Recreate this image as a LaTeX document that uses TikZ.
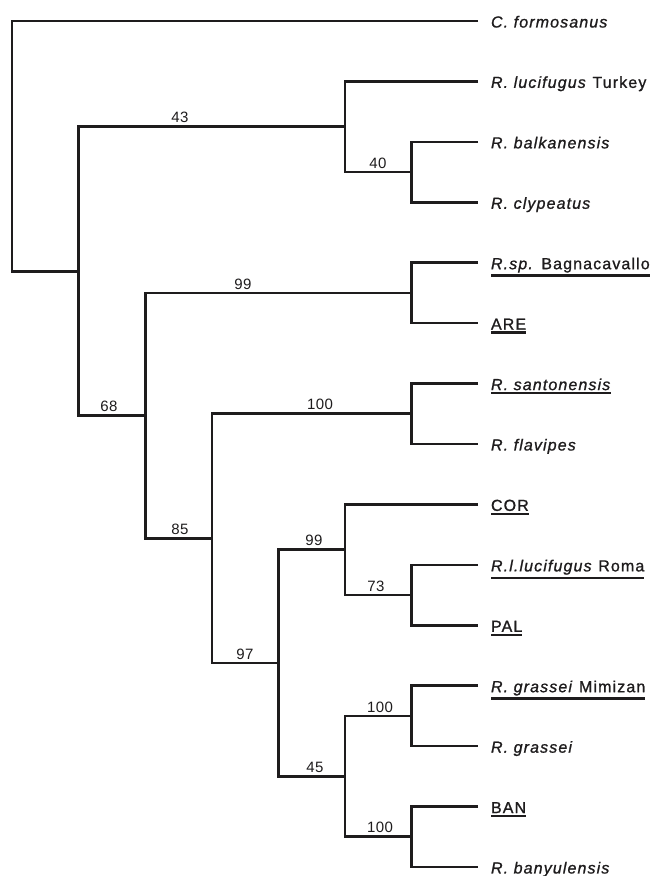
\documentclass[tikz,border=0pt]{standalone}
\usepackage{fontspec}
\setmainfont{Liberation Sans}[LetterSpace=7.0,FakeBold=1.0]
\newfontfamily\bootfont{Liberation Sans}[LetterSpace=3.0]
\newcommand{\ulname}[1]{\setbox0\hbox{#1}\rlap{\rule[-\dimexpr\dp0+4.2pt\relax]{\wd0}{2.4pt}}\box0}
\begin{document}
\begin{tikzpicture}[x=1pt,y=1pt,
  branch/.style={draw=drawColor,line width= 2.6pt,line join=miter},
  taxon/.style={text=drawColor,anchor=base west,inner sep=0pt,outer sep=0pt,font=\fontsize{16}{19}\selectfont},
  boot/.style={text=drawColor,anchor=base,inner sep=0pt,outer sep=0pt,font=\bootfont\fontsize{15}{18}\selectfont}]
\definecolor{fillColor}{RGB}{255,255,255}
\definecolor{drawColor}{RGB}{30,28,29}
\path[use as bounding box,fill=fillColor] (0,0) rectangle (650,876);

% tips
\coordinate (tForm) at (478.20,855.00);
\coordinate (tTurk) at (478.20,794.60);
\coordinate (tBalk) at (478.20,734.10);
\coordinate (tClyp) at (478.20,673.70);
\coordinate (tBagn) at (478.20,613.30);
\coordinate (tARE)  at (478.20,552.80);
\coordinate (tSant) at (478.20,492.40);
\coordinate (tFlav) at (478.20,432.00);
\coordinate (tCOR)  at (478.20,371.60);
\coordinate (tRoma) at (478.20,311.10);
\coordinate (tPAL)  at (478.20,250.70);
\coordinate (tMimi) at (478.20,190.30);
\coordinate (tGras) at (478.20,129.80);
\coordinate (tBAN)  at (478.20, 69.40);
\coordinate (tBany) at (478.20,  9.00);

% internal nodes
\coordinate (root)  at ( 12.00,604.70);
\coordinate (nIng)  at ( 78.60,604.70);
\coordinate (n43)   at (345.00,749.20);
\coordinate (n40)   at (411.60,703.90);
\coordinate (n68)   at (145.20,460.20);
\coordinate (n99a)  at (411.60,583.00);
\coordinate (n85)   at (211.80,337.50);
\coordinate (n100a) at (411.60,462.20);
\coordinate (n97)   at (278.40,212.90);
\coordinate (n99b)  at (345.00,326.20);
\coordinate (n73)   at (411.60,280.90);
\coordinate (n45)   at (345.00, 99.60);
\coordinate (n100b) at (411.60,160.00);
\coordinate (n100c) at (411.60, 39.20);

% branches
\path[branch] (tForm) -| (root) -- (nIng);
\path[branch] (n43) -| (nIng) |- (n68);
\path[branch] (tTurk) -| (n43) |- (n40);
\path[branch] (tBalk) -| (n40) |- (tClyp);
\path[branch] (n99a) -| (n68) |- (n85);
\path[branch] (tBagn) -| (n99a) |- (tARE);
\path[branch] (n100a) -| (n85) |- (n97);
\path[branch] (tSant) -| (n100a) |- (tFlav);
\path[branch] (n99b) -| (n97) |- (n45);
\path[branch] (tCOR) -| (n99b) |- (n73);
\path[branch] (tRoma) -| (n73) |- (tPAL);
\path[branch] (n100b) -| (n45) |- (n100c);
\path[branch] (tMimi) -| (n100b) |- (tGras);
\path[branch] (tBAN) -| (n100c) |- (tBany);

% support values
\node[boot] (b43)   at (180.00,753.00) {43};
\node[boot] (b40)   at (378.00,707.70) {40};
\node[boot] (b68)   at (109.00,464.00) {68};
\node[boot] (b99a)  at (243.00,586.80) {99};
\node[boot] (b85)   at (180.00,341.30) {85};
\node[boot] (b100a) at (320.00,466.00) {100};
\node[boot] (b97)   at (245.00,216.70) {97};
\node[boot] (b99b)  at (314.00,330.00) {99};
\node[boot] (b73)   at (376.00,284.70) {73};
\node[boot] (b45)   at (315.00,103.40) {45};
\node[boot] (b100b) at (380.00,163.80) {100};
\node[boot] (b100c) at (380.00, 43.00) {100};

% taxa
\node[taxon] (lForm) at (491.00,848.50) {\textit{C. formosanus}};
\node[taxon] (lTurk) at (491.00,788.10) {\textit{R. lucifugus} Turkey};
\node[taxon] (lBalk) at (491.00,727.60) {\textit{R. balkanensis}};
\node[taxon] (lClyp) at (491.00,667.20) {\textit{R. clypeatus}};
\node[taxon] (lBagn) at (491.00,606.80) {\ulname{\textit{R.sp.} Bagnacavallo}};
\node[taxon] (lARE)  at (491.00,546.30) {\ulname{ARE}};
\node[taxon] (lSant) at (491.00,485.90) {\ulname{\textit{R. santonensis}}};
\node[taxon] (lFlav) at (491.00,425.50) {\textit{R. flavipes}};
\node[taxon] (lCOR)  at (491.00,365.10) {\ulname{COR}};
\node[taxon] (lRoma) at (491.00,304.60) {\ulname{\textit{R.l.lucifugus} Roma}};
\node[taxon] (lPAL)  at (491.00,244.20) {\ulname{PAL}};
\node[taxon] (lMimi) at (491.00,183.80) {\ulname{\textit{R. grassei} Mimizan}};
\node[taxon] (lGras) at (491.00,123.30) {\textit{R. grassei}};
\node[taxon] (lBAN)  at (491.00, 62.90) {\ulname{BAN}};
\node[taxon] (lBany) at (491.00,  2.50) {\textit{R. banyulensis}};
\end{tikzpicture}
\end{document}
